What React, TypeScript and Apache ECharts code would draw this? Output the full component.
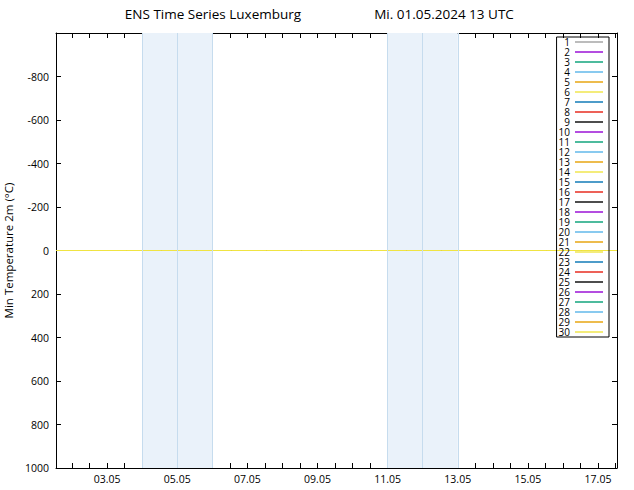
import React, { useEffect, useRef } from "react";
import * as echarts from "echarts";

// Time in hours since 01.05.2024 00 UTC
const runStartHour = 13;
const runEndHour = 397;
const timeSteps = [13, 37, 61, 85, 109, 133, 157, 181, 205, 229, 253, 277, 301, 325, 349, 373, 397];
// All members read as 0 over the whole period
const memberValues = [0, 0, 0, 0, 0, 0, 0, 0, 0, 0, 0, 0, 0, 0, 0, 0, 0];
const memberNames = [
  "1", "2", "3", "4", "5", "6", "7", "8", "9", "10",
  "11", "12", "13", "14", "15", "16", "17", "18", "19", "20",
  "21", "22", "23", "24", "25", "26", "27", "28", "29", "30",
];
const memberColors = [
  "#a0a0a0", "#9400d3", "#009e73", "#56b4e9", "#e69f00", "#f0e442", "#0072b2", "#e51e10", "#000000",
  "#9400d3", "#009e73", "#56b4e9", "#e69f00", "#f0e442", "#0072b2", "#e51e10", "#000000",
  "#9400d3", "#009e73", "#56b4e9", "#e69f00", "#f0e442", "#0072b2", "#e51e10", "#000000",
  "#9400d3", "#009e73", "#56b4e9", "#e69f00", "#f0e442",
];
const xTickLabels = ["03.05", "05.05", "07.05", "09.05", "11.05", "13.05", "15.05", "17.05"];
const yTickValues = [-1000, -800, -600, -400, -200, 0, 200, 400, 600, 800, 1000];
// Weekend shading (start/end dates, plus day divider)
const weekendStarts = ["04.05", "11.05"];
const weekendEnds = ["06.05", "13.05"];
const weekendDividers = ["05.05", "12.05"];

const dayToHour = (d: string) => (parseInt(d.split(".")[0], 10) - 1) * 24;
const hourToDay = (h: number) => {
  const d = Math.floor(h / 24) + 1;
  return (d < 10 ? "0" : "") + d + ".05";
};

const FONT = "Open Sans";

export default function App() {
  const ref = useRef<HTMLDivElement>(null);
  useEffect(() => {
    if (!ref.current) return;
    const chart = echarts.init(ref.current, undefined, { renderer: "svg" });
    const tickHours: number[] = [];
    for (let h = 24; h < runEndHour; h += 12) tickHours.push(h);
    const labelHours = xTickLabels.map(dayToHour);

    const frameX = {
      type: "value" as const,
      min: runStartHour,
      max: runEndHour,
      splitLine: { show: false },
      axisLine: { show: true, onZero: false, lineStyle: { color: "#000", width: 1 } },
      axisTick: { show: true, inside: true, length: 5, customValues: tickHours, lineStyle: { color: "#000" } },
    };

    const series: any[] = memberNames.map((name, i) => ({
      name,
      type: "line",
      data: timeSteps.map((t, k) => [t, memberValues[k]]),
      symbol: "none",
      legendIcon: "rect",
      lineStyle: { width: 1, color: memberColors[i] },
      itemStyle: { color: memberColors[i] },
      silent: true,
      z: 3,
    }));
    series.unshift({
      name: "weekend",
      type: "line",
      data: [],
      silent: true,
      z: 1,
      markArea: {
        silent: true,
        itemStyle: { color: "#eaf2fa" },
        data: weekendStarts.map((s, i) => [{ xAxis: dayToHour(s) }, { xAxis: dayToHour(weekendEnds[i]) }]),
      },
      markLine: {
        silent: true,
        symbol: "none",
        label: { show: false },
        lineStyle: { color: "#c6dcee", width: 1, type: "solid" },
        data: [...weekendStarts, ...weekendDividers, ...weekendEnds].map((d) => ({ xAxis: dayToHour(d) })),
      },
    });

    chart.setOption({
      animation: false,
      textStyle: { fontFamily: FONT },
      grid: { left: 56, top: 33, right: 17, bottom: 22, containLabel: false, outerBoundsMode: "none" },
      graphic: [
        { type: "text", x: 213, y: 14, style: { text: "ENS Time Series Luxemburg", font: `13.5px '${FONT}'`, fill: "#000", textAlign: "center", textVerticalAlign: "middle" } },
        { type: "text", x: 444, y: 14, style: { text: "Mi. 01.05.2024 13 UTC", font: `13.5px '${FONT}'`, fill: "#000", textAlign: "center", textVerticalAlign: "middle" } },
      ],
      legend: {
        orient: "vertical",
        right: 25,
        top: 37,
        align: "right",
        data: memberNames,
        icon: "rect",
        itemWidth: 28,
        itemHeight: 1.4,
        itemGap: 0,
        padding: [0, 6, 0, 2],
        borderColor: "#000",
        borderWidth: 1,
        selectedMode: false,
        textStyle: { fontFamily: FONT, fontSize: 10, color: "#000", lineHeight: 10, height: 10 },
      },
      xAxis: [
        {
          ...frameX,
          position: "bottom",
          axisLabel: {
            show: true,
            customValues: labelHours,
            formatter: (v: number) => hourToDay(v),
            fontFamily: FONT,
            fontSize: 10.5,
            color: "#000",
            margin: 5,
          },
        },
        { ...frameX, position: "top", axisLabel: { show: false } },
      ],
      yAxis: [
        {
          type: "value",
          inverse: true,
          min: -1000,
          max: 1000,
          interval: 200,
          position: "left",
          name: "Min Temperature 2m (°C)",
          nameLocation: "middle",
          nameGap: 40,
          nameTextStyle: { fontFamily: FONT, fontSize: 11.5, color: "#000" },
          splitLine: { show: false },
          axisLine: { show: true, onZero: false, lineStyle: { color: "#000" } },
          axisTick: { show: true, inside: true, length: 5, lineStyle: { color: "#000" } },
          axisLabel: {
            fontFamily: FONT,
            fontSize: 10.5,
            color: "#000",
            margin: 7,
            formatter: (v: number) => (v === yTickValues[0] ? "" : String(v)),
          },
        },
        {
          type: "value",
          inverse: true,
          min: -1000,
          max: 1000,
          interval: 200,
          position: "right",
          splitLine: { show: false },
          axisLine: { show: true, onZero: false, lineStyle: { color: "#000" } },
          axisTick: { show: true, inside: true, length: 5, lineStyle: { color: "#000" } },
          axisLabel: { show: false },
        },
      ],
      series,
    });
    return () => chart.dispose();
  }, []);
  return <div ref={ref} style={{ width: 634, height: 490, position: "absolute", left: 0, top: 0 }} />;
}
